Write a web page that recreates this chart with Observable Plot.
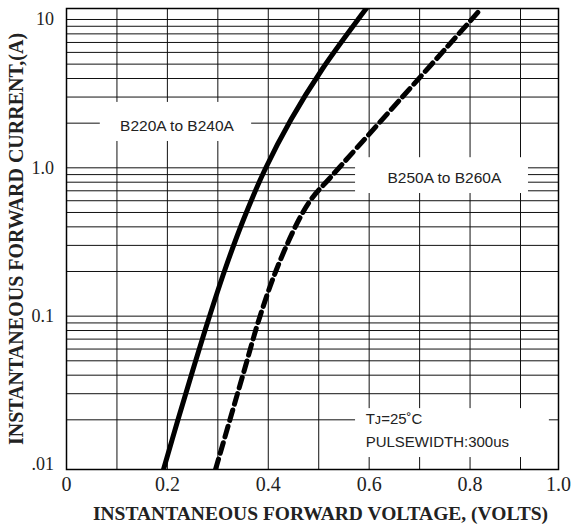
<!DOCTYPE html>
<html>
<head>
<meta charset="utf-8">
<script src="https://cdn.jsdelivr.net/npm/d3@7"></script>
<script src="https://cdn.jsdelivr.net/npm/@observablehq/plot@0.6"></script>
<style>
  html, body { margin: 0; padding: 0; background: #fff; }
  #chart svg { display: block; }
</style>
</head>
<body>
<div id="chart"></div>
<script>
// ---- Data ----
const seriesNames = ["B220A to B240A", "B250A to B260A"];

// B220A to B240A (solid)
const solidVolts   = [0.1923, 0.2211, 0.2508, 0.2815, 0.3142, 0.3509, 0.3935, 0.4451, 0.5065, 0.5779, 0.5943];
const solidAmps    = [0.00925, 0.0201, 0.0437, 0.0950, 0.2064, 0.4485, 0.9744, 2.118, 4.601, 10.0, 11.86];

// B250A to B260A (dashed)
const dashedVolts  = [0.2954, 0.3241, 0.3529, 0.3816, 0.4163, 0.4609, 0.4877, 0.5214, 0.5763, 0.6650, 0.7536, 0.8222];
const dashedAmps   = [0.00925, 0.0201, 0.0437, 0.0950, 0.2064, 0.4485, 0.631, 0.8475, 1.371, 2.980, 6.475, 11.86];

const xTicks      = [0, 0.2, 0.4, 0.6, 0.8, 1.0];
const xTickLabels = ["0", "0.2", "0.4", "0.6", "0.8", "1.0"];
const yTicks      = [0.01, 0.1, 1, 10];
const yTickLabels = [".01", "0.1", "1.0", "10"];

const xGrid = [0.1, 0.2, 0.3, 0.4, 0.5, 0.6, 0.7, 0.8, 0.9];
const yGrid = [0.02, 0.03, 0.04, 0.05, 0.06, 0.07, 0.08, 0.09,
               0.1, 0.2, 0.3, 0.4, 0.5, 0.6, 0.7, 0.8, 0.9,
               1, 2, 3, 4, 5, 6, 7, 8, 9, 10];

const notes = ["T\u1D0A=25\u02DAC", "PULSEWIDTH:300us"];
const xTitle = "INSTANTANEOUS FORWARD VOLTAGE, (VOLTS)";
const yTitle = "INSTANTANEOUS FORWARD CURRENT,(A)";

// ---- Annotation placement (data units) ----
const labelBoxes = [
  {x1: 0.067, x2: 0.367, y1: 1.505, y2: 2.76},
  {x1: 0.573, x2: 0.921, y1: 0.671, y2: 1.17},
  {x1: 0.573, x2: 0.976, y1: 0.01114, y2: 0.0238}
];
const seriesLabelPos = [
  {x: 0.219, y: 1.90},
  {x: 0.749, y: 0.86}
];
const notePos = [
  {x: 0.593, y: 0.0201},
  {x: 0.593, y: 0.0141}
];

// ---- Build tables ----
const solid  = solidVolts.map((v, i) => ({v, a: solidAmps[i]}));
const dashed = dashedVolts.map((v, i) => ({v, a: dashedAmps[i]}));
const seriesLabels = seriesNames.map((t, i) => ({t, ...seriesLabelPos[i]}));
const noteLabels = notes.map((t, i) => ({t, ...notePos[i]}));

const sans = "'Liberation Sans', Arial, sans-serif";
const serif = "'Liberation Serif', 'Times New Roman', serif";

const chart = Plot.plot({
  width: 571,
  height: 529,
  marginLeft: 66,
  marginRight: 13,
  marginTop: 8,
  marginBottom: 60,
  style: {background: "#fff", color: "#000"},
  x: {type: "linear", domain: [0, 0.9, 1.0], range: [66, 520, 558]},
  y: {type: "log", domain: [0.00925, 11.86]},
  marks: [
    Plot.ruleX(xGrid, {stroke: "#111", strokeWidth: 1}),
    Plot.ruleY(yGrid, {stroke: "#111", strokeWidth: 1}),
    Plot.rect(labelBoxes, {x1: "x1", x2: "x2", y1: "y1", y2: "y2", fill: "#fff"}),
    Plot.line(solid, {x: "v", y: "a", curve: "catmull-rom", stroke: "#000", strokeWidth: 5, clip: true}),
    Plot.line(dashed, {x: "v", y: "a", curve: "catmull-rom", stroke: "#000", strokeWidth: 5, strokeDasharray: "11,6", clip: true}),
    Plot.text(seriesLabels, {x: "x", y: "y", text: "t", fontFamily: sans, fontSize: 15.5, fill: "#222", textAnchor: "middle"}),
    Plot.text(noteLabels, {x: "x", y: "y", text: "t", fontFamily: sans, fontSize: 15, fill: "#222", textAnchor: "start"}),
    Plot.frame({stroke: "#000", strokeWidth: 1.5}),
    Plot.axisX(xTicks, {tickSize: 0, tickPadding: 7, label: null,
      tickFormat: d => xTickLabels[xTicks.indexOf(d)],
      fontFamily: serif, fontSize: 20, fill: "#222"}),
    Plot.axisY(yTicks, {tickSize: 0, tickPadding: 12.5, label: null,
      tickFormat: d => yTickLabels[yTicks.indexOf(d)],
      fontFamily: serif, fontSize: 18, fill: "#222"}),
    Plot.text([xTitle], {frameAnchor: "bottom", dy: 50, dx: 8, text: d => d, textAnchor: "middle",
      fontFamily: serif, fontWeight: "bold", fontSize: 19.5, fill: "#222"}),
    Plot.text([yTitle], {frameAnchor: "left", dx: -50, rotate: -90, text: d => d, textAnchor: "middle",
      fontFamily: serif, fontWeight: "bold", fontSize: 20, fill: "#222"})
  ]
});
document.getElementById("chart").appendChild(chart);
</script>
</body>
</html>
